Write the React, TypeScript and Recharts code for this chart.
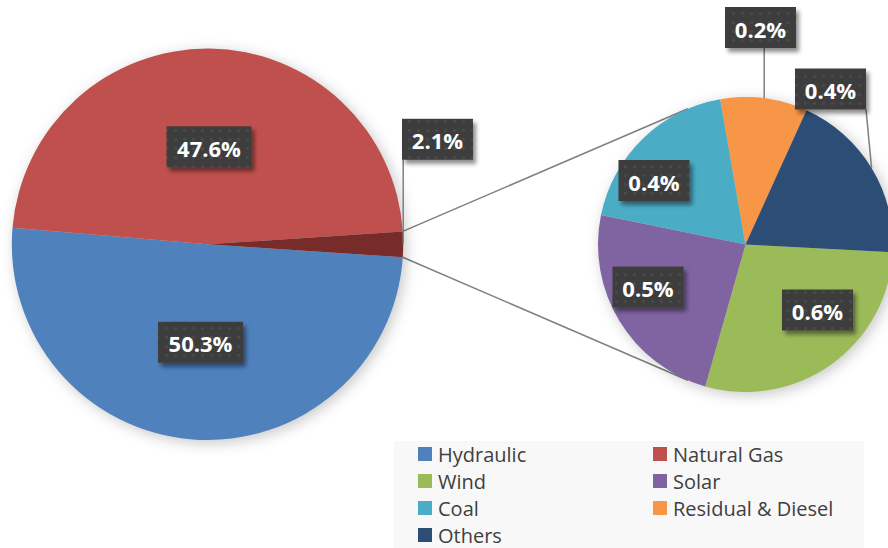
import React from 'react';
import {PieChart, Pie, Cell, Legend, Customized} from 'recharts';

// main pie
const mainNames = ['Hydraulic', 'Natural Gas', 'Other'];
const mainValues = [50.3, 47.6, 2.1];
const mainColors = ['#4F81BD', '#C0504D', '#772C2A'];

// secondary pie (breakdown of "Other")
const subNames = ['Wind', 'Solar', 'Coal', 'Residual & Diesel', 'Others'];
const subValues = [0.6, 0.5, 0.4, 0.2, 0.4];
const subColors = ['#9BBB59', '#8064A2', '#4BACC6', '#F79646', '#2C4D75'];

// legend order (two columns, row by row)
const legendNames = ['Hydraulic', 'Natural Gas', 'Wind', 'Solar', 'Coal', 'Residual & Diesel', 'Others'];
const legendColors = ['#4F81BD', '#C0504D', '#9BBB59', '#8064A2', '#4BACC6', '#F79646', '#2C4D75'];

const mainData = mainNames.map((name, i) => ({name, value: mainValues[i]}));
const subData = subNames.map((name, i) => ({name, value: subValues[i]}));

// geometry
const MAIN = {cx: 207.5, cy: 244.3, r: 195.7};
const SUB = {cx: 745.5, cy: 244.5, r: 147.5};
const CONNECT_ANGLE = 113; // where the connector lines touch the small pie

// label box centre, offset from the pie centre
const mainLabelSpots = [
  [-7, 98],
  [1.5, -97.5],
  [230, -105],
];
const subLabelSpots = [
  [72, 65.5],
  [-97.5, 42.5],
  [-91.5, -64],
  [15, -217],
  [85, -155.5],
];

const RAD = Math.PI / 180;
const mainTotal = mainValues.reduce((a, b) => a + b, 0);
const halfOther = (180 * mainValues[2]) / mainTotal;

const makeLabel = (spots: number[][]) => (props: any) => {
  const {cx, cy, midAngle, outerRadius, index, value} = props;
  const [dx, dy] = spots[index];
  const lx = cx + dx;
  const ly = cy + dy;
  const text = `${Number(value).toFixed(1)}%`;
  const w = text.length * 14 + 15;
  const h = 41;
  const x0 = lx - w / 2;
  const y0 = ly - h / 2;
  const outside = Math.sqrt(dx * dx + dy * dy) > outerRadius * 0.95;
  let line = null;
  if (outside) {
    const ax = cx + outerRadius * Math.cos(-midAngle * RAD);
    const ay = cy + outerRadius * Math.sin(-midAngle * RAD);
    const bx = Math.min(Math.max(ax, x0), x0 + w);
    const by = Math.min(Math.max(ay, y0), y0 + h);
    line = <line x1={ax} y1={ay} x2={bx} y2={by} stroke='#7f7f7f' strokeWidth={1.5} />;
  }
  return (
    <g key={`lbl-${index}`}>
      {line}
      <rect x={x0} y={y0} width={w} height={h} fill='url(#dots)' filter='url(#boxShadow)' />
      <text
        x={lx}
        y={ly + 1}
        textAnchor='middle'
        dominantBaseline='central'
        fill='#ffffff'
        fontFamily='"Open Sans", sans-serif'
        fontWeight={700}
        fontSize={22}
      >
        {text}
      </text>
    </g>
  );
};

const Defs = () => (
  <defs>
    <pattern id='dots' width='9' height='9' patternUnits='userSpaceOnUse'>
      <rect width='9' height='9' fill='#3d3d3d' />
      <circle cx='4.5' cy='4.5' r='1.6' fill='#4a4a4a' />
    </pattern>
    <filter id='boxShadow' x='-20%' y='-20%' width='150%' height='170%'>
      <feDropShadow dx='3' dy='4' stdDeviation='2' floodColor='#000' floodOpacity='0.45' />
    </filter>
  </defs>
);

const Connectors = () => {
  const p1 = {x: MAIN.cx + MAIN.r * Math.cos(halfOther * RAD), y: MAIN.cy - MAIN.r * Math.sin(halfOther * RAD)};
  const p2 = {x: MAIN.cx + MAIN.r * Math.cos(halfOther * RAD), y: MAIN.cy + MAIN.r * Math.sin(halfOther * RAD)};
  const q1 = {x: SUB.cx + SUB.r * Math.cos(CONNECT_ANGLE * RAD), y: SUB.cy - SUB.r * Math.sin(CONNECT_ANGLE * RAD)};
  const q2 = {x: SUB.cx + SUB.r * Math.cos(CONNECT_ANGLE * RAD), y: SUB.cy + SUB.r * Math.sin(CONNECT_ANGLE * RAD)};
  return (
    <g>
      <line x1={p1.x} y1={p1.y} x2={q1.x} y2={q1.y} stroke='#7f7f7f' strokeWidth={1.5} />
      <line x1={p2.x} y1={p2.y} x2={q2.x} y2={q2.y} stroke='#7f7f7f' strokeWidth={1.5} />
    </g>
  );
};

const LegendBox = () => (
  <div
    style={{
      background: '#f8f8f8',
      width: 470,
      height: 107,
      boxSizing: 'border-box',
      padding: '0 0 0 24px',
      display: 'grid',
      gridTemplateColumns: '235px 235px',
      gridAutoRows: '27px',
      fontFamily: '"Open Sans", sans-serif',
      fontSize: 20,
      color: '#404040',
    }}
  >
    {legendNames.map((name, i) => (
      <div key={name} style={{display: 'flex', alignItems: 'center', whiteSpace: 'nowrap', lineHeight: '25px', marginTop: -1}}>
        <span style={{display: 'inline-block', width: 14, height: 14, background: legendColors[i], marginRight: 6}} />
        {name}
      </div>
    ))}
  </div>
);

export default function App() {
  return (
    <div style={{position: 'absolute', left: 0, top: 0, width: 888, height: 548, background: '#fff', overflow: 'hidden'}}>
      <style>{`.recharts-pie-sectors, .recharts-pie > g:first-child { filter: drop-shadow(3px 3px 7px rgba(0,0,0,0.22)); }`}</style>
      <PieChart width={888} height={548} margin={{top: 0, right: 0, bottom: 0, left: 0}}>
        <Defs />
        <Customized component={Connectors} />
        <Pie
          data={mainData}
          dataKey='value'
          nameKey='name'
          cx={MAIN.cx}
          cy={MAIN.cy}
          outerRadius={MAIN.r}
          startAngle={-halfOther}
          endAngle={-halfOther - 360}
          stroke='none'
          labelLine={false}
          label={makeLabel(mainLabelSpots)}
          isAnimationActive={false}
        >
          {mainData.map((d, i) => (
            <Cell key={d.name} fill={mainColors[i]} />
          ))}
        </Pie>
        <Pie
          data={subData}
          dataKey='value'
          nameKey='name'
          cx={SUB.cx}
          cy={SUB.cy}
          outerRadius={SUB.r}
          startAngle={-3}
          endAngle={-363}
          stroke='none'
          labelLine={false}
          label={makeLabel(subLabelSpots)}
          isAnimationActive={false}
        >
          {subData.map((d, i) => (
            <Cell key={d.name} fill={subColors[i]} />
          ))}
        </Pie>
        <Legend content={() => <LegendBox />} wrapperStyle={{position: 'absolute', left: 394, top: 441, width: 470, bottom: 'auto'}} />
      </PieChart>
    </div>
  );
}
